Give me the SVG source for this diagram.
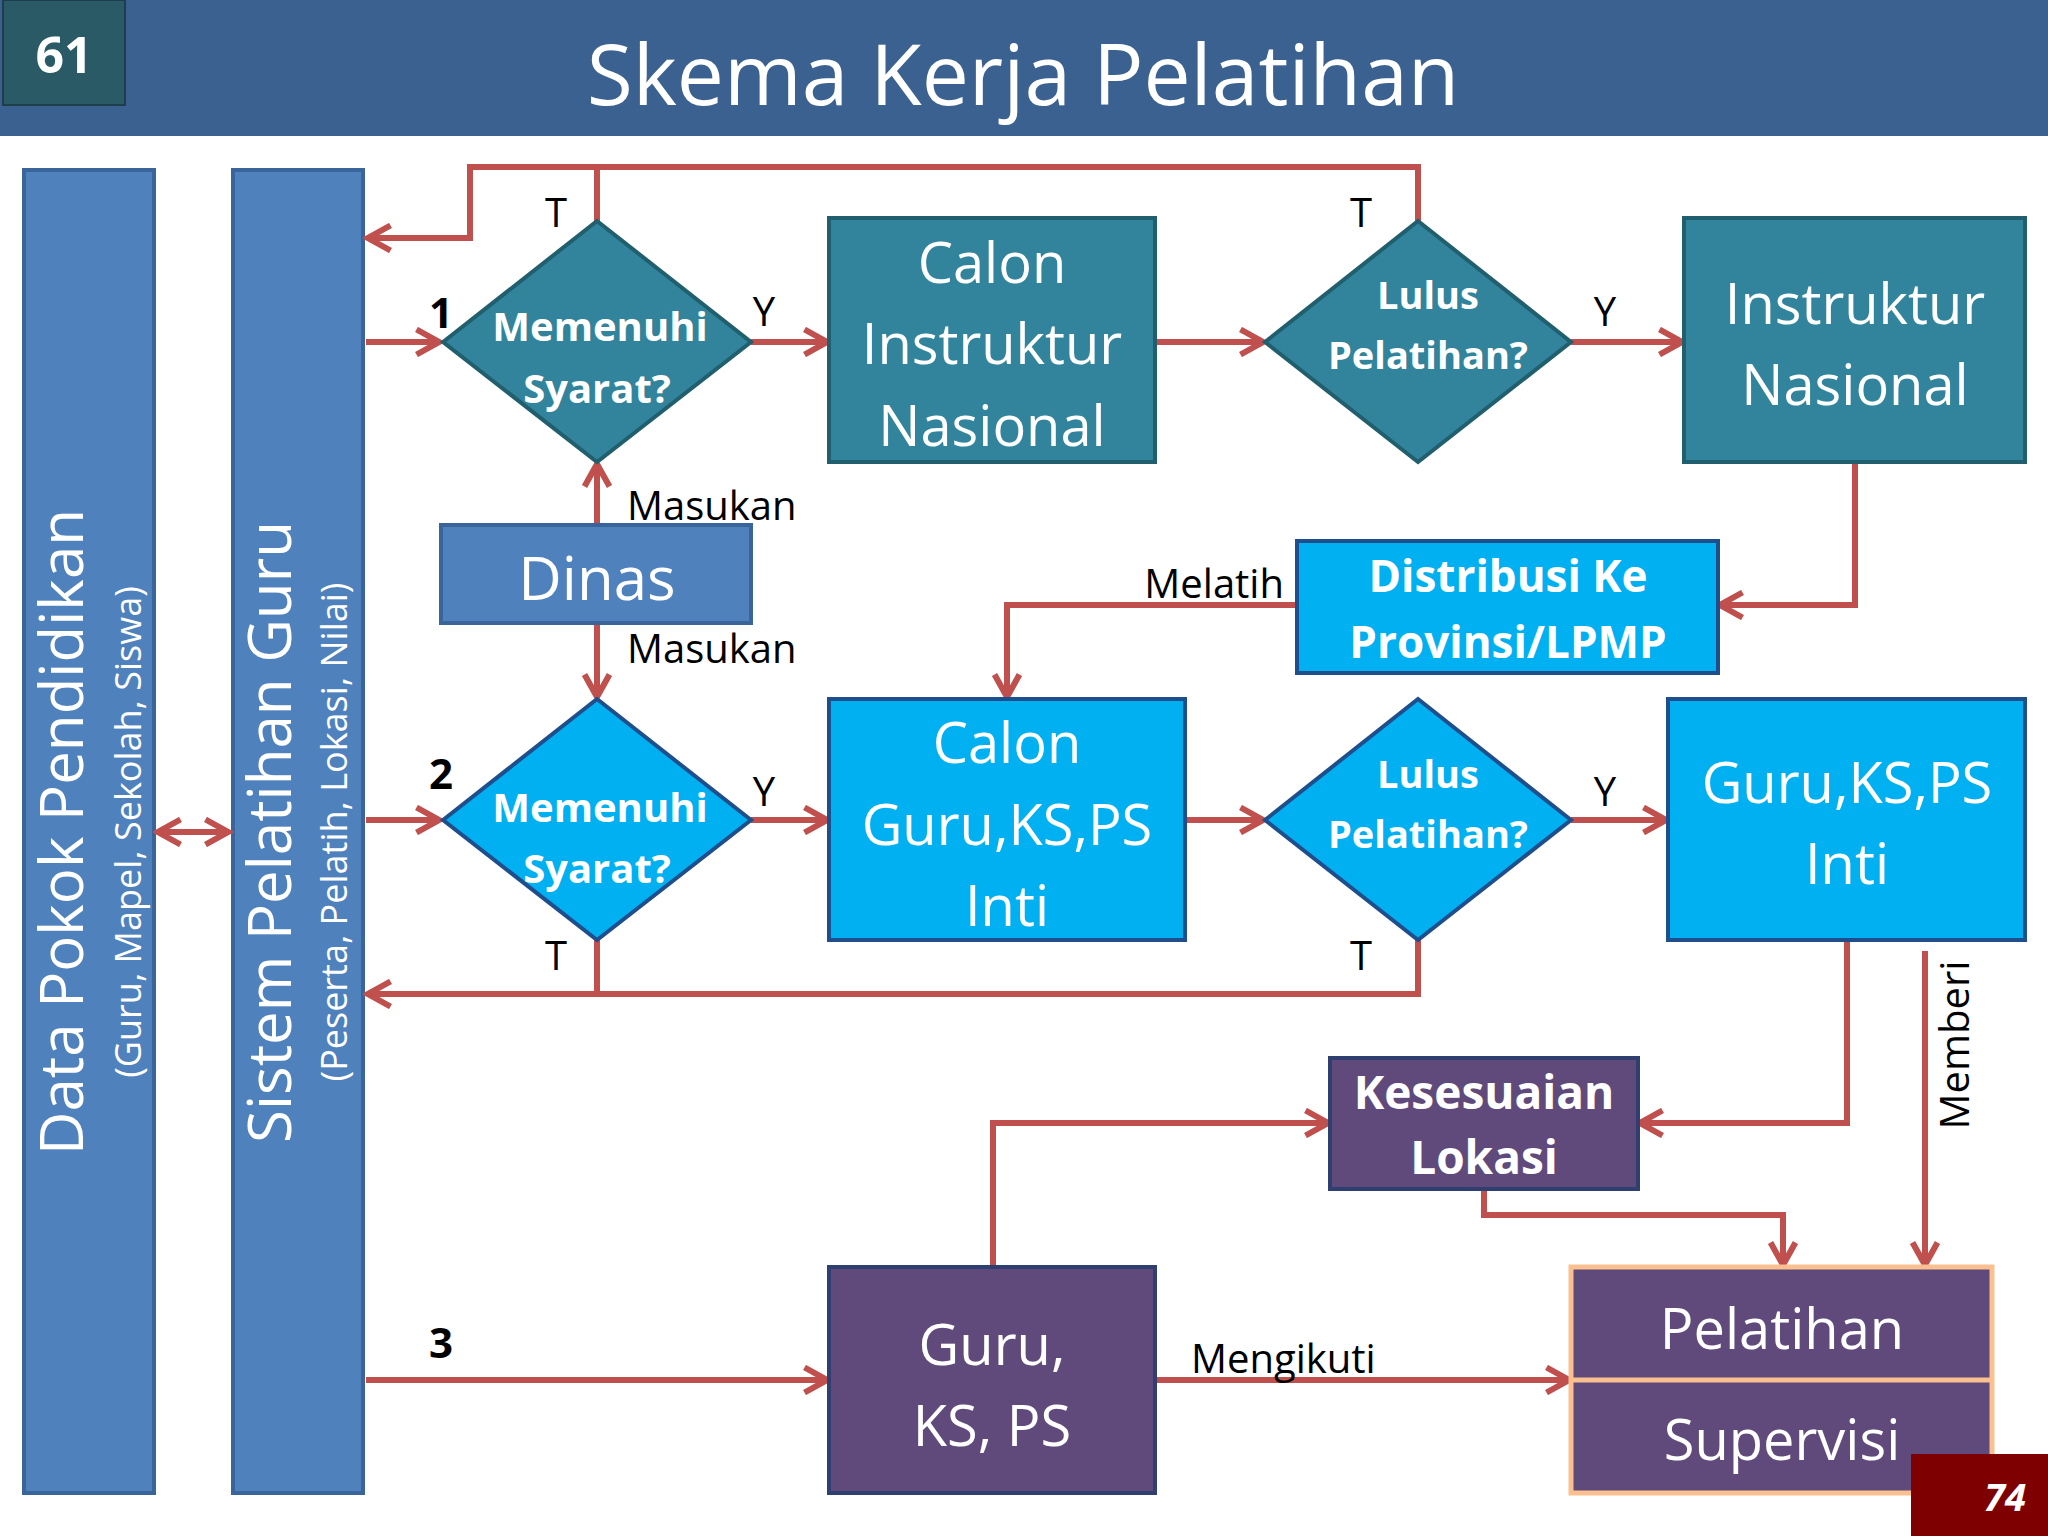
<svg xmlns="http://www.w3.org/2000/svg" width="2048" height="1536" viewBox="0 0 2048 1536">
<defs>
<marker id="ar" viewBox="0 0 12 12" refX="10" refY="6" markerWidth="5" markerHeight="5" markerUnits="strokeWidth" orient="auto-start-reverse">
<path d="M1,1 L10,6 L1,11" fill="none" stroke="#C0504D" stroke-width="2.4"/>
</marker>
</defs>
<style>
text{font-family:"Open Sans","DejaVu Sans",sans-serif;dominant-baseline:central;text-anchor:middle}
.w{fill:#fff}
.b{font-weight:bold}
.k{fill:#000}
.c{fill:none;stroke:#C0504D;stroke-width:6}
.teal{fill:#31849B;stroke:#215E6E;stroke-width:4}
.cy{fill:#00B0F0;stroke:#1F4E8C;stroke-width:4}
.pu{fill:#604A7B;stroke:#2F3F6F;stroke-width:4}
.bl{fill:#4F81BD;stroke:#3A659A;stroke-width:4}
</style>
<rect width="2048" height="1536" fill="#fff"/>
<g id="header">
<rect x="0" y="0" width="2048" height="136" fill="#3B6190"/>
<rect x="3" y="0" width="122" height="105" fill="#2A5A66" stroke="#1E3F4A" stroke-width="2"/>
<text x="64" y="54" class="w b" font-size="50">61</text>
<text x="1023" y="72" class="w" font-size="84">Skema Kerja Pelatihan</text>
</g>
<g id="bar-dapodik">
<rect x="24" y="170" width="130" height="1323" class="bl"/>
<text transform="translate(60,832) rotate(-90)" class="w" font-size="60">Data Pokok Pendidikan</text>
<text transform="translate(127,832) rotate(-90)" class="w" font-size="36">(Guru, Mapel, Sekolah, Siswa)</text>
</g>
<g id="bar-sistem">
<rect x="233" y="170" width="130" height="1323" class="bl"/>
<text transform="translate(268,832) rotate(-90)" class="w" font-size="60">Sistem Pelatihan Guru</text>
<text transform="translate(333,832) rotate(-90)" class="w" font-size="36">(Peserta, Pelatih, Lokasi, Nilai)</text>
</g>
<g id="connectors">
<path class="c" d="M158,832 H228" marker-start="url(#ar)" marker-end="url(#ar)"/>
<path class="c" d="M1418,221 V167 H470 V238 H368" marker-end="url(#ar)"/>
<path class="c" d="M597,221 V167"/>
<path class="c" d="M366,342 H439" marker-end="url(#ar)"/>
<path class="c" d="M751,342 H827" marker-end="url(#ar)"/>
<path class="c" d="M1157,342 H1263" marker-end="url(#ar)"/>
<path class="c" d="M1571,342 H1682" marker-end="url(#ar)"/>
<path class="c" d="M597,525 V464" marker-end="url(#ar)"/>
<path class="c" d="M597,623 V697" marker-end="url(#ar)"/>
<path class="c" d="M1855,462 V605 H1720" marker-end="url(#ar)"/>
<path class="c" d="M1297,605 H1007 V697" marker-end="url(#ar)"/>
<path class="c" d="M366,820 H439" marker-end="url(#ar)"/>
<path class="c" d="M751,820 H827" marker-end="url(#ar)"/>
<path class="c" d="M1187,820 H1263" marker-end="url(#ar)"/>
<path class="c" d="M1571,820 H1666" marker-end="url(#ar)"/>
<path class="c" d="M1418,940 V994 H368" marker-end="url(#ar)"/>
<path class="c" d="M597,940 V994"/>
<path class="c" d="M1847,940 V1123 H1640" marker-end="url(#ar)"/>
<path class="c" d="M1925,951 V1265" marker-end="url(#ar)"/>
<path class="c" d="M1484,1189 V1215 H1783 V1265" marker-end="url(#ar)"/>
<path class="c" d="M993,1267 V1123 H1328" marker-end="url(#ar)"/>
<path class="c" d="M366,1380 H827" marker-end="url(#ar)"/>
<path class="c" d="M1157,1380 H1569" marker-end="url(#ar)"/>
</g>
<g id="labels" font-size="40">
<text x="556" y="211" class="k" font-size="40">T</text>
<text x="1361" y="211" class="k" font-size="40">T</text>
<text x="441" y="311" class="k b" font-size="42">1</text>
<text x="764" y="310" class="k" font-size="40">Y</text>
<text x="1605" y="310" class="k" font-size="40">Y</text>
<text x="627" y="504" class="k" font-size="40" text-anchor="start" style="text-anchor:start">Masukan</text>
<text x="627" y="647" class="k" font-size="40" style="text-anchor:start">Masukan</text>
<text x="1284" y="582" class="k" font-size="40" style="text-anchor:end">Melatih</text>
<text x="441" y="772" class="k b" font-size="42">2</text>
<text x="764" y="790" class="k" font-size="40">Y</text>
<text x="1605" y="790" class="k" font-size="40">Y</text>
<text x="556" y="954" class="k" font-size="40">T</text>
<text x="1361" y="954" class="k" font-size="40">T</text>
<text transform="translate(1953,1045) rotate(-90)" class="k" font-size="40">Memberi</text>
<text x="441" y="1341" class="k b" font-size="42">3</text>
<text x="1191" y="1357" class="k" font-size="40" style="text-anchor:start">Mengikuti</text>
</g>
<g id="d1">
<polygon points="443,342 597,221 751,342 597,462" class="teal"/>
<text x="600" y="325" class="w b" font-size="40">Memenuhi</text>
<text x="597" y="387" class="w b" font-size="40">Syarat?</text>
</g>
<g id="calon-in">
<rect x="829" y="218" width="326" height="244" class="teal"/>
<text x="992" y="261" class="w" font-size="56">Calon</text>
<text x="992" y="342" class="w" font-size="56">Instruktur</text>
<text x="992" y="424" class="w" font-size="56">Nasional</text>
</g>
<g id="lulus1">
<polygon points="1265,342 1418,221 1571,342 1418,462" class="teal"/>
<text x="1428" y="294" class="w b" font-size="38">Lulus</text>
<text x="1428" y="354" class="w b" font-size="38">Pelatihan?</text>
</g>
<g id="in">
<rect x="1684" y="218" width="341" height="244" class="teal"/>
<text x="1855" y="302" class="w" font-size="56">Instruktur</text>
<text x="1855" y="383" class="w" font-size="56">Nasional</text>
</g>
<g id="dinas">
<rect x="441" y="525" width="310" height="98" class="bl"/>
<text x="597" y="577" class="w" font-size="60">Dinas</text>
</g>
<g id="distribusi">
<rect x="1297" y="541" width="421" height="132" class="cy"/>
<text x="1508" y="575" class="w b" font-size="44">Distribusi Ke</text>
<text x="1508" y="641" class="w b" font-size="44">Provinsi/LPMP</text>
</g>
<g id="d2">
<polygon points="443,820 597,699 751,820 597,940" class="cy"/>
<text x="600" y="806" class="w b" font-size="40">Memenuhi</text>
<text x="597" y="867" class="w b" font-size="40">Syarat?</text>
</g>
<g id="calon-guru">
<rect x="829" y="699" width="356" height="241" class="cy"/>
<text x="1007" y="741" class="w" font-size="56">Calon</text>
<text x="1007" y="823" class="w" font-size="56">Guru,KS,PS</text>
<text x="1007" y="904" class="w" font-size="56">Inti</text>
</g>
<g id="lulus2">
<polygon points="1265,820 1418,699 1571,820 1418,940" class="cy"/>
<text x="1428" y="773" class="w b" font-size="38">Lulus</text>
<text x="1428" y="833" class="w b" font-size="38">Pelatihan?</text>
</g>
<g id="guru-inti">
<rect x="1668" y="699" width="357" height="241" class="cy"/>
<text x="1847" y="781" class="w" font-size="56">Guru,KS,PS</text>
<text x="1847" y="862" class="w" font-size="56">Inti</text>
</g>
<g id="kesesuaian">
<rect x="1330" y="1058" width="308" height="131" class="pu"/>
<text x="1484" y="1091" class="w b" font-size="46">Kesesuaian</text>
<text x="1484" y="1156" class="w b" font-size="46">Lokasi</text>
</g>
<g id="guru">
<rect x="829" y="1267" width="326" height="226" class="pu"/>
<text x="992" y="1343" class="w" font-size="56">Guru,</text>
<text x="992" y="1424" class="w" font-size="56">KS, PS</text>
</g>
<g id="pelatihan">
<rect x="1571" y="1267" width="421" height="226" fill="#604A7B" stroke="#FAC090" stroke-width="5"/>
<line x1="1571" y1="1380" x2="1992" y2="1380" stroke="#FAC090" stroke-width="5"/>
<text x="1782" y="1327" class="w" font-size="56">Pelatihan</text>
<text x="1782" y="1438" class="w" font-size="56">Supervisi</text>
</g>
<g id="page">
<rect x="1911" y="1454" width="137" height="82" fill="#7F0000"/>
<text x="2005" y="1496" class="w b" font-size="38" font-style="italic">74</text>
</g>
</svg>
